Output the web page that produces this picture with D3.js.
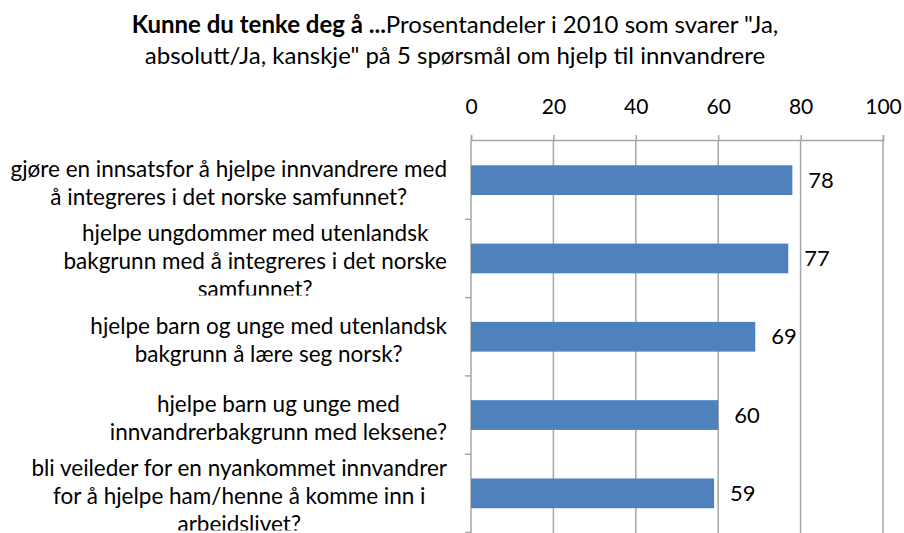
<!DOCTYPE html>
<html>
<head>
<meta charset="utf-8">
<script src="https://cdn.jsdelivr.net/npm/d3@7"></script>
<style>
  body { margin: 0; background: #fff; }
  svg { display: block; font-family: Lato, "Open Sans", sans-serif; }
</style>
</head>
<body>
<svg id="chart" width="904" height="533"></svg>
<script>
// data
const titleBold = "Kunne du tenke deg å ...";
const titleRest = "Prosentandeler i 2010 som svarer \"Ja,";
const titleLine2 = "absolutt/Ja, kanskje\" på 5 spørsmål om hjelp til innvandrere";

const categories = [
    ["gjøre en innsatsfor å hjelpe innvandrere med", "å integreres i det norske samfunnet?"],
    ["hjelpe ungdommer med utenlandsk", "bakgrunn med å integreres i det norske", "samfunnet?"],
    ["hjelpe barn og unge med utenlandsk", "bakgrunn å lære seg norsk?"],
    ["hjelpe barn ug unge med", "innvandrerbakgrunn med leksene?"],
    ["bli veileder for en nyankommet innvandrer", "for å hjelpe ham/henne å komme inn i", "arbeidslivet?"]
];
const values = [78, 77, 69, 60, 59];
const xTicks = [0, 20, 40, 60, 80, 100];

let svg = d3.select("#chart");

let x = d3.scaleLinear().domain([0, 100]).range([471, 883]);
let y = d3.scaleBand()
    .domain(d3.range(categories.length))
    .range([141, 532.5])
    .paddingInner(0.62)
    .paddingOuter(0.31);

// title
let title = svg.append("text")
    .attr("x", 455).attr("y", 33)
    .attr("text-anchor", "middle")
    .style("font-size", "24px")
    .style("fill", "#000");
title.append("tspan").style("font-weight", "bold").text(titleBold);
title.append("tspan").text(titleRest);
svg.append("text")
    .attr("x", 455).attr("y", 64)
    .attr("text-anchor", "middle")
    .style("font-size", "24px")
    .text(titleLine2);

// gridlines
svg.append("g").selectAll("line")
    .data(xTicks.slice(1))
    .enter().append("line")
    .attr("x1", d => x(d)).attr("x2", d => x(d))
    .attr("y1", 140).attr("y2", 533)
    .style("stroke", "#a6a6a6")
    .style("stroke-width", 1.5);

// top axis
let xAxis = d3.axisTop(x).tickValues(xTicks).tickSize(5).tickPadding(21);
let gx = svg.append("g").attr("transform", "translate(0,140)").call(xAxis);
gx.select(".domain").style("stroke", "#a6a6a6").style("stroke-width", 1.5);
gx.selectAll(".tick line").style("stroke", "#a6a6a6").style("stroke-width", 1.5);
gx.selectAll(".tick text")
    .style("font-size", "21px")
    .style("font-family", "Lato, sans-serif")
    .style("fill", "#000");

// left axis line and category ticks
let bounds = d3.range(categories.length + 1).map(i => 141 + i * y.step());
svg.append("line")
    .attr("x1", x(0)).attr("x2", x(0))
    .attr("y1", 140).attr("y2", 533)
    .style("stroke", "#a6a6a6").style("stroke-width", 1.5);
svg.append("g").selectAll("line")
    .data(bounds.slice(1))
    .enter().append("line")
    .attr("x1", x(0) - 6).attr("x2", x(0))
    .attr("y1", d => d).attr("y2", d => d)
    .style("stroke", "#a6a6a6").style("stroke-width", 1.5);

// bars
svg.append("g").selectAll("rect")
    .data(values)
    .enter().append("rect")
    .attr("x", x(0))
    .attr("y", (d, i) => y(i))
    .attr("width", d => x(d) - x(0))
    .attr("height", y.bandwidth())
    .style("fill", "#4f81bd");

// value labels
svg.append("g").selectAll("text")
    .data(values)
    .enter().append("text")
    .attr("x", d => x(d) + 16)
    .attr("y", (d, i) => y(i) + y.bandwidth() / 2)
    .attr("dy", "0.35em")
    .style("font-size", "22px")
    .text(d => d);

// category labels, wrapped and clipped to their band
let defs = svg.append("defs");
categories.forEach(function(lines, i) {
    let top = bounds[i], bottom = bounds[i + 1];
    defs.append("clipPath").attr("id", "clip" + i)
        .append("rect")
        .attr("x", 0).attr("y", top)
        .attr("width", 460).attr("height", bottom - top - 2);

    let g = svg.append("g").attr("clip-path", "url(#clip" + i + ")");
    let mid = (top + bottom) / 2 + 3;
    let t = g.append("text")
        .attr("text-anchor", "middle")
        .style("font-size", "22.5px")
        .style("fill", "#000");
    lines.forEach(function(line, j) {
        t.append("tspan")
            .attr("y", mid + (j - (lines.length - 1) / 2) * 28)
            .attr("dy", "0.35em")
            .text(line);
    });
    // widest line ends at x = 447, lines centred within the block
    let widest = d3.max(t.selectAll("tspan").nodes(), n => n.getComputedTextLength());
    t.selectAll("tspan").attr("x", 447 - widest / 2);
});
</script>
</body>
</html>
